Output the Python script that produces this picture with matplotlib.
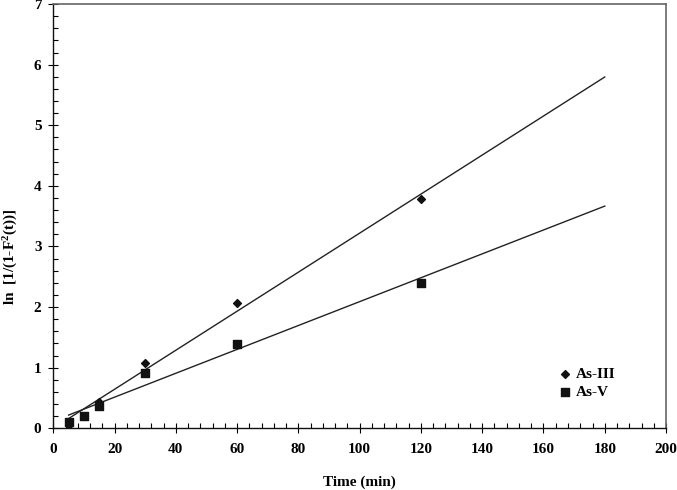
import matplotlib
matplotlib.use("Agg")
import matplotlib.pyplot as plt
import numpy as np
from matplotlib.ticker import MultipleLocator

time_min = [5, 10, 15, 30, 60, 120]
as3_values = [0.05, 0.20, 0.44, 1.08, 2.07, 3.78]
as5_values = [0.10, 0.21, 0.37, 0.91, 1.39, 2.40]
fit_x = [5, 180]
as3_fit = (0.0322, 0.0)    # slope, intercept
as5_fit = (0.0197, 0.12)

plt.rcParams['font.family'] = ['Liberation Serif', 'DejaVu Serif']
plt.rcParams['font.weight'] = 'bold'
plt.rcParams['mathtext.fontset'] = 'custom'
plt.rcParams['mathtext.rm'] = 'Liberation Serif:bold'
plt.rcParams['mathtext.bf'] = 'Liberation Serif:bold'
plt.rcParams['mathtext.it'] = 'Liberation Serif:bold'

fig = plt.figure(figsize=(6.77, 4.90), dpi=100)
ax = fig.add_axes([0.0787, 0.1259, 0.9051, 0.8659])

fx = np.array(fit_x, dtype=float)
ax.plot(fx, as3_fit[0] * fx + as3_fit[1], color='#222222', lw=1.0, zorder=2)
ax.plot(fx, as5_fit[0] * fx + as5_fit[1], color='#222222', lw=1.0, zorder=2)

ax.scatter(time_min, as3_values, marker='D', s=16, color='#111111', zorder=3, label='As-III')
ax.scatter(time_min, as5_values, marker='s', s=30, color='#111111', zorder=4, label='As-V')

ax.set_xlim(0, 200)
ax.set_ylim(0, 7)
ax.xaxis.set_major_locator(MultipleLocator(20))
ax.xaxis.set_minor_locator(MultipleLocator(4))
ax.yaxis.set_major_locator(MultipleLocator(1))
ax.yaxis.set_minor_locator(MultipleLocator(0.2))
ax.tick_params(which='major', direction='inout', length=7, width=0.8, labelsize=11, pad=7)
ax.tick_params(axis='y', which='major', pad=5)
ax.tick_params(which='minor', direction='in', length=3.5, width=0.8)
for lab in ax.get_xticklabels() + ax.get_yticklabels():
    lab.set_fontweight('bold')

for s in ['left', 'bottom']:
    ax.spines[s].set_color('#111111')
    ax.spines[s].set_linewidth(1.0)
for s in ['top', 'right']:
    ax.spines[s].set_color('#666666')
    ax.spines[s].set_linewidth(1.2)

ax.set_xlabel('Time (min)', fontsize=11, fontweight='bold', labelpad=14)
ax.set_ylabel(r'ln  [1/(1-F$^{2}$(t))]', fontsize=11, fontweight='bold')
ax.yaxis.set_label_coords(-0.054, 0.404)

leg = ax.legend(loc='lower left', bbox_to_anchor=(0.815, 0.055), frameon=False,
                fontsize=11, handletextpad=0.3, labelspacing=0.25, handlelength=0.8,
                borderaxespad=0)
for t in leg.get_texts():
    t.set_fontweight('bold')

fig.savefig('out.png', dpi=100)
